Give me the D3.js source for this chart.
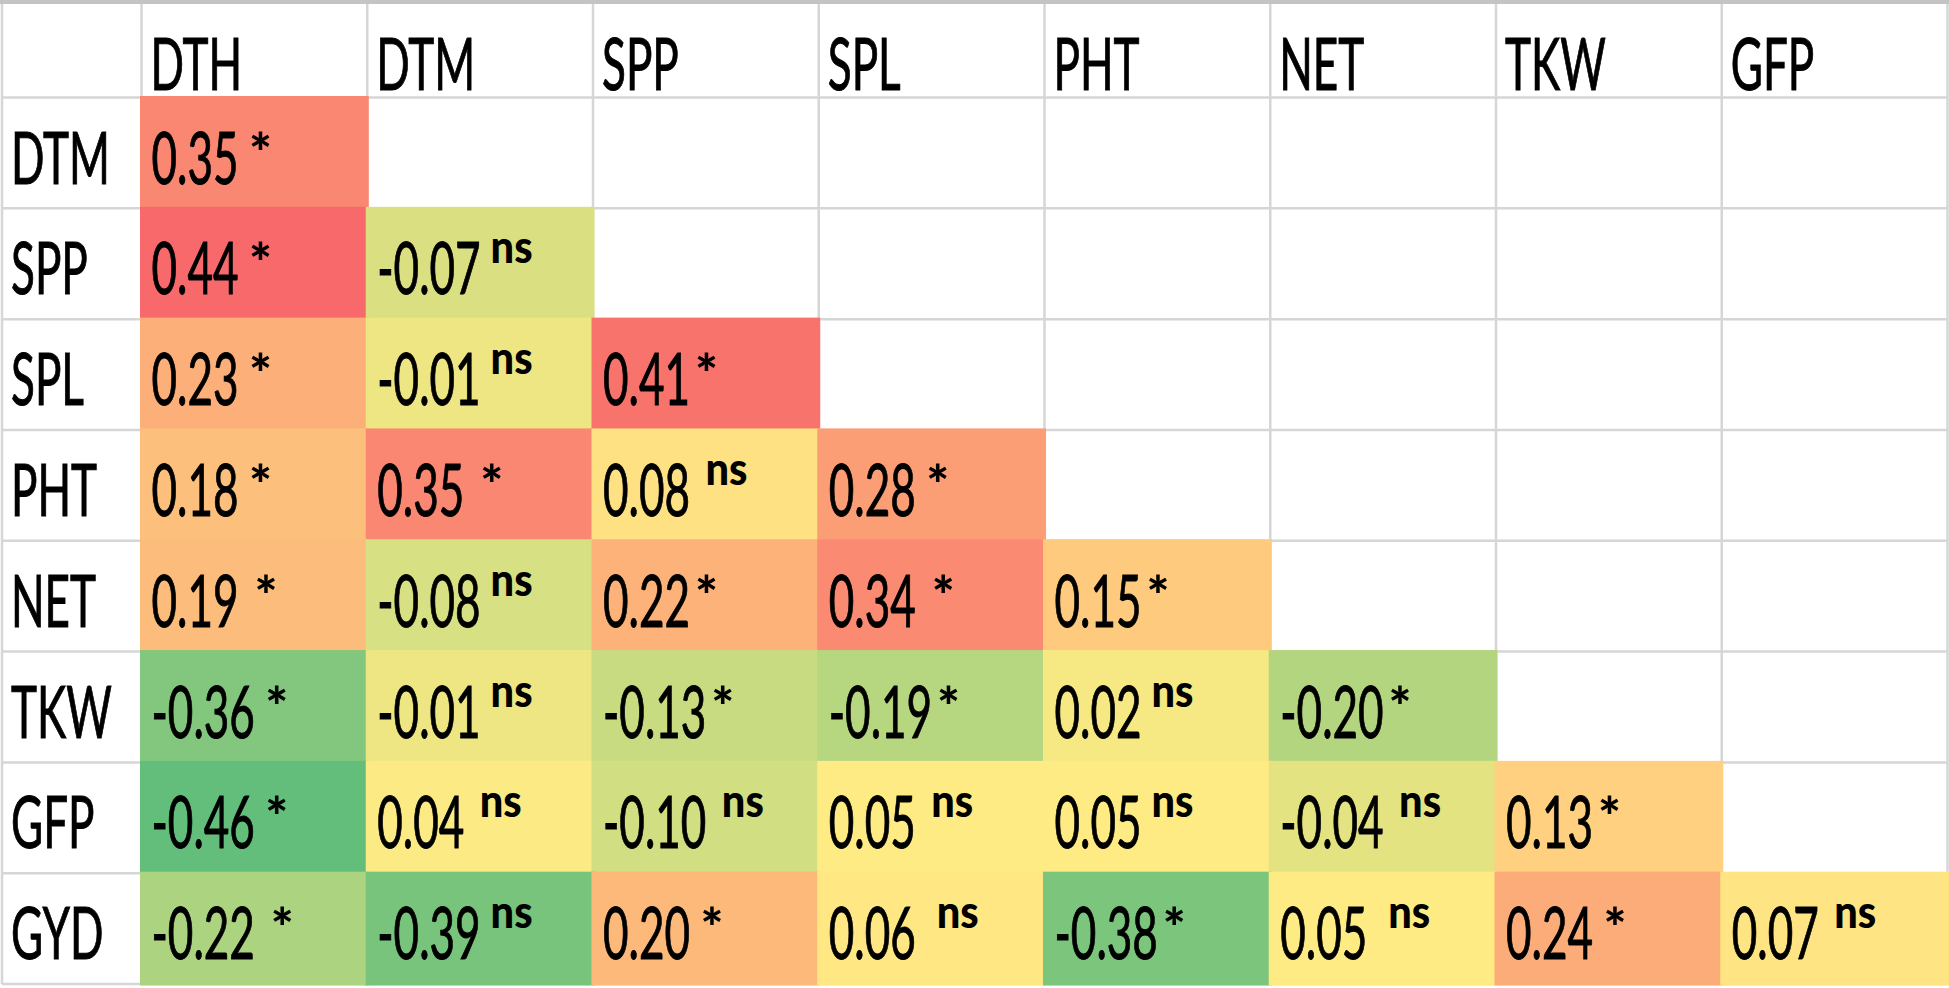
<!DOCTYPE html>
<html>
  <head>
    <meta charset="utf-8">
    <title>Correlation table</title>
    <style>
      body { margin: 0; background: #fff; }
      svg { display: block; }
      text { font-family: Lato, "Open Sans", sans-serif; fill: #000; }
      text.big { stroke: #000; stroke-width: 1; }
    </style>
  </head>
  <body>
    <svg id="chart" width="1949" height="988"></svg>
  </body>
  <script type="text/javascript" src="https://cdn.jsdelivr.net/npm/d3@7"></script>
  <script type="text/javascript">
    // traits across the top and down the side
    const columns = ["DTH", "DTM", "SPP", "SPL", "PHT", "NET", "TKW", "GFP"];
    const rowLabels = ["DTM", "SPP", "SPL", "PHT", "NET", "TKW", "GFP", "GYD"];

    // lower triangle, one list per row
    const values = [
      [0.35],
      [0.44, -0.07],
      [0.23, -0.01, 0.41],
      [0.18, 0.35, 0.08, 0.28],
      [0.19, -0.08, 0.22, 0.34, 0.15],
      [-0.36, -0.01, -0.13, -0.19, 0.02, -0.20],
      [-0.46, 0.04, -0.10, 0.05, 0.05, -0.04, 0.13],
      [-0.22, -0.39, 0.20, 0.06, -0.38, 0.05, 0.24, 0.07]
    ];

    // significance marks as typed in the sheet (leading spaces kept)
    const signif = [
      [" *"],
      [" *", "ns"],
      [" *", "ns", "*"],
      [" *", "  *", " ns", " *"],
      ["  *", "ns", "*", "  *", "*"],
      [" *", "ns", "*", "*", "ns", "*"],
      [" *", " ns", " ns", " ns", "ns", " ns", "*"],
      ["  *", "ns", " *", "  ns", "*", "  ns", " *", " ns"]
    ];

    const svg = d3.select("#chart");
    const gridColor = "#d6d6d6";

    const x = d3.scaleBand().domain(columns).range([141.5, 1947.5]);
    const y = d3.scaleBand().domain(rowLabels).range([97.5, 984]);
    const labelX = 2, headerTop = 2;

    const cells = [];
    values.forEach(function(row, i) {
      row.forEach(function(v, j) {
        cells.push({ row: rowLabels[i], col: columns[j], value: v, sig: signif[i][j] });
      });
    });

    // excel style 3 colour scale: min green, median yellow, max red
    const all = cells.map(d => d.value);
    const color = d3.scaleLinear()
      .domain([d3.min(all), d3.median(all), d3.max(all)])
      .range(["#63be7b", "#ffeb84", "#f8696b"]);

    // grid
    const grid = svg.append("g");
    const xs = [labelX].concat(columns.map(c => x(c)), [x.range()[1]]);
    const ys = [headerTop].concat(rowLabels.map(r => y(r)), [y.range()[1]]);
    grid.selectAll("line.v").data(xs).enter().append("line")
      .attr("x1", d => d).attr("x2", d => d)
      .attr("y1", headerTop).attr("y2", y.range()[1])
      .attr("stroke", gridColor).attr("stroke-width", 2.5);
    grid.selectAll("line.h").data(ys).enter().append("line")
      .attr("x1", labelX).attr("x2", x.range()[1])
      .attr("y1", d => d).attr("y2", d => d)
      .attr("stroke", gridColor).attr("stroke-width", 2.5);
    grid.append("line")
      .attr("x1", 0).attr("x2", 1949).attr("y1", 2).attr("y2", 2)
      .attr("stroke", "#c4c4c4").attr("stroke-width", 4);

    // filled cells cover the gridlines like excel fills do
    svg.append("g").selectAll("rect")
      .data(cells).enter().append("rect")
      .attr("x", d => x(d.col) - 1.5)
      .attr("y", d => y(d.row) - 1.5)
      .attr("width", x.bandwidth() + 3)
      .attr("height", y.bandwidth() + 3)
      .attr("fill", d => color(d.value));

    const bigSize = 72.5, supSize = 45, starSize = 54;

    // squeeze the text horizontally the way the stretched picture does
    const probe = svg.append("text").attr("font-size", bigSize).text("0.08");
    const sx = 87 / probe.node().getComputedTextLength();
    probe.remove();
    const probe2 = svg.append("text").attr("font-size", supSize).attr("font-weight", 900).text("ns");
    const sxs = 42 / probe2.node().getComputedTextLength();
    probe2.remove();

    const baseOff = 86;

    // header labels
    svg.append("g").selectAll("text")
      .data(columns).enter().append("text")
      .attr("class", "big")
      .attr("font-size", bigSize)
      .attr("transform", d => "translate(" + (x(d) + 9) + "," + 90 + ") scale(" + sx + ",1)")
      .text(d => d);

    // row labels
    svg.append("g").selectAll("text")
      .data(rowLabels).enter().append("text")
      .attr("class", "big")
      .attr("font-size", bigSize)
      .attr("transform", d => "translate(" + 11 + "," + (y(d) + baseOff) + ") scale(" + sx + ",1)")
      .text(d => d);

    // numbers
    const cellG = svg.append("g").selectAll("g")
      .data(cells).enter().append("g");

    cellG.append("text")
      .attr("class", "big num")
      .attr("font-size", bigSize)
      .attr("transform", d => "translate(" + (x(d.col) + 10) + "," + (y(d.row) + baseOff) + ") scale(" + sx + ",1)")
      .text(d => d.value.toFixed(2));

    // superscript marks
    cellG.each(function(d) {
      const g = d3.select(this);
      const w = g.select("text.num").node().getComputedTextLength() * sx;
      const mark = d.sig.trim();
      const spaces = d.sig.length - mark.length;
      const isStar = mark === "*";
      const gap = (isStar ? 7 : 10) + 5.5 * spaces;
      const top = y(d.row) + baseOff - 52;
      const by = isStar ? top + 40 : top + 21;
      g.append("text")
        .attr("font-size", isStar ? starSize : supSize)
        .attr("font-weight", 900)
        .attr("transform", "translate(" + (x(d.col) + 10 + w + gap - (isStar ? 2 : 0)) + "," + by + ") scale(" + (isStar ? 1 : sxs) + ",1)")
        .text(mark);
    });
  </script>
</html>
